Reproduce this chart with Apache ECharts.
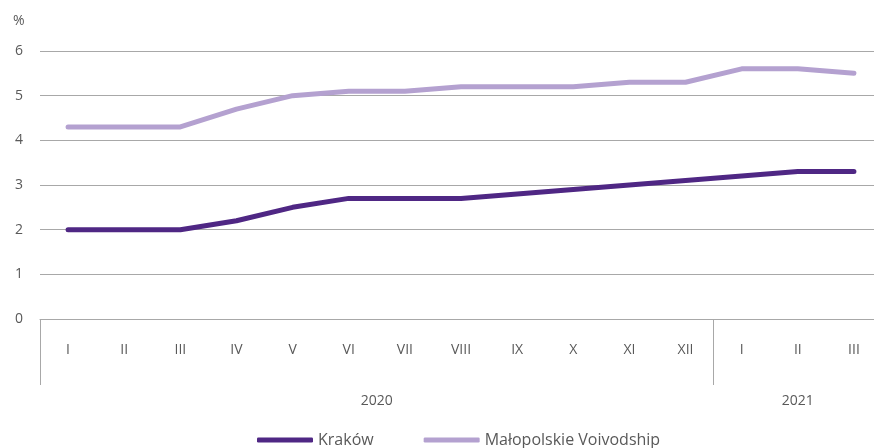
<!DOCTYPE html>
<html>
<head>
	<meta charset="utf-8">
	<title>Unemployment rate</title>
	<script src="https://cdn.jsdelivr.net/npm/echarts@6/dist/echarts.min.js"></script>
	<style type="text/css">
		body{ margin:0; background:#fff; overflow:hidden; }
		#main{ width:884px; height:448px; }
	</style>
</head>
<body>
	<div id="main"></div>
	<script type="text/javascript">
		var months = ['I','II','III','IV','V','VI','VII','VIII','IX','X','XI','XII','I','II','III'];
		var krakow = [2.0,2.0,2.0,2.2,2.5,2.7,2.7,2.7,2.8,2.9,3.0,3.1,3.2,3.3,3.3];
		var malopolska = [4.3,4.3,4.3,4.7,5.0,5.1,5.1,5.2,5.2,5.2,5.3,5.3,5.6,5.6,5.5];
		var years = ['2020','2021'];
		var yearCenters = [6, 13.5];
		var yearBreaks = [0, 12];

		var font = 'Open Sans';
		var grey = '#595959';

		var myChart = echarts.init(document.getElementById('main'));
		var option = {
			animation: false,
			textStyle: { fontFamily: font },
			title: {
				text: '%',
				left: 8,
				top: 9,
				textStyle: { fontSize: 14, fontWeight: 'normal', color: grey, fontFamily: font }
			},
			legend: {
				left: 252,
				top: 427,
				icon: 'roundRect',
				itemWidth: 56,
				itemHeight: 5,
				itemGap: 50,
				textStyle: { fontSize: 16, color: grey, fontFamily: font },
				data: ['Kraków', 'Małopolskie Voivodship']
			},
			grid: {
				left: 40,
				top: 51,
				width: 842,
				height: 268
			},
			xAxis: [{
				type: 'category',
				data: months,
				axisTick: { show: false },
				axisLine: { lineStyle: { color: '#a8a8a8', width: 1 } },
				axisLabel: { color: grey, fontSize: 14, margin: 24, fontFamily: font }
			}, {
				type: 'value',
				min: 0,
				max: 15,
				position: 'bottom',
				splitLine: { show: false },
				axisLine: { show: false },
				axisTick: {
					show: true,
					customValues: yearBreaks,
					length: 66,
					lineStyle: { color: '#a8a8a8', width: 1 }
				},
				axisLabel: {
					customValues: yearCenters,
					margin: 75,
					color: grey,
					fontSize: 14,
					fontFamily: font,
					formatter: function(v){
						return v < 12 ? years[0] : years[1];
					}
				}
			}],
			yAxis: {
				type: 'value',
				min: 0,
				max: 6,
				interval: 1,
				axisLine: { show: false },
				axisTick: { show: false },
				axisLabel: { color: grey, fontSize: 14, margin: 17, fontFamily: font },
				splitLine: { lineStyle: { color: '#a8a8a8', width: 1 } }
			},
			series: [{
				name: 'Kraków',
				type: 'line',
				xAxisIndex: 0,
				data: krakow,
				symbol: 'none',
				itemStyle: { color: '#4f2784' },
				lineStyle: { width: 5, color: '#4f2784', cap: 'round', join: 'round' },
				z: 3
			}, {
				name: 'Małopolskie Voivodship',
				type: 'line',
				xAxisIndex: 0,
				data: malopolska,
				symbol: 'none',
				itemStyle: { color: '#b4a1d0' },
				lineStyle: { width: 5, color: '#b4a1d0', cap: 'round', join: 'round' },
				z: 2
			}]
		};
		myChart.setOption(option);
	</script>
</body>
</html>
